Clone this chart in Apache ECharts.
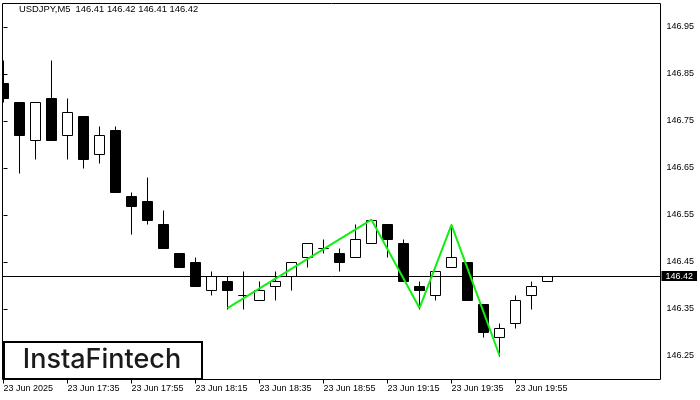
<!DOCTYPE html>
<html>
<head>
<meta charset="utf-8">
<script src="https://cdn.jsdelivr.net/npm/echarts@6/dist/echarts.min.js"></script>
<style>html,body{margin:0;padding:0;background:#fff;}#c{width:700px;height:400px;}</style>
</head>
<body>
<div id="c"></div>
<script>
// 5-minute bars, 23 Jun 2025, starting 17:15
const times = ['17:15','17:20','17:25','17:30','17:35','17:40','17:45','17:50','17:55','18:00',
  '18:05','18:10','18:15','18:20','18:25','18:30','18:35','18:40','18:45','18:50',
  '18:55','19:00','19:05','19:10','19:15','19:20','19:25','19:30','19:35','19:40',
  '19:45','19:50','19:55','20:00','20:05'];
const open  = [146.83,146.79,146.71,146.80,146.72,146.76,146.68,146.73,146.59,146.58,
  146.53,146.47,146.45,146.39,146.41,146.38,146.37,146.40,146.42,146.46,
  146.48,146.47,146.46,146.49,146.53,146.49,146.40,146.38,146.44,146.45,
  146.36,146.29,146.32,146.38,146.41];
const high  = [146.88,146.79,146.79,146.88,146.80,146.76,146.74,146.74,146.60,146.63,
  146.56,146.47,146.46,146.43,146.42,146.43,146.41,146.43,146.45,146.49,
  146.50,146.48,146.53,146.54,146.53,146.50,146.41,146.43,146.53,146.45,
  146.36,146.32,146.38,146.41,146.42];
const low   = [146.79,146.64,146.67,146.71,146.67,146.65,146.66,146.60,146.51,146.53,
  146.48,146.44,146.40,146.38,146.35,146.35,146.37,146.37,146.39,146.44,
  146.47,146.43,146.46,146.49,146.46,146.41,146.35,146.37,146.44,146.37,
  146.29,146.25,146.31,146.35,146.41];
const close = [146.80,146.72,146.79,146.71,146.77,146.67,146.72,146.60,146.57,146.54,
  146.48,146.44,146.40,146.42,146.39,146.38,146.39,146.41,146.45,146.49,
  146.48,146.45,146.50,146.54,146.50,146.41,146.39,146.43,146.46,146.37,
  146.30,146.31,146.37,146.40,146.42];

// pattern line (bar index, price)
const patternX = [14, 23, 26, 28, 31];
const patternY = [146.352, 146.540, 146.352, 146.529, 146.251];

const lastPrice = 146.42;
const headerText = 'USDJPY,M5  146.41 146.42 146.41 146.42';

const xTickIdx = [0, 4, 8, 12, 16, 20, 24, 28, 32];
const xTickLabels = ['23 Jun 2025','23 Jun 17:35','23 Jun 17:55','23 Jun 18:15','23 Jun 18:35',
  '23 Jun 18:55','23 Jun 19:15','23 Jun 19:35','23 Jun 19:55'];
const yTickLabels = ['146.25','146.35','146.45','146.55','146.65','146.75','146.85','146.95'];

const candleData = times.map((t, i) => [i, open[i], close[i], low[i], high[i]]);
const patternData = patternX.map((x, i) => [x, patternY[i]]);

const FONT = '"Liberation Sans", Arial, sans-serif';

function renderCandle(params, api) {
  const k = api.value(0), o = api.value(1), c = api.value(2), l = api.value(3), h = api.value(4);
  const pO = api.coord([k, o]), pC = api.coord([k, c]);
  const pL = api.coord([k, l]), pH = api.coord([k, h]);
  const cx = Math.floor(pO[0]) + 0.5;
  const bw = Math.round(api.size([1, 0])[0] * 0.625);
  const yTop = Math.round(Math.min(pO[1], pC[1])) + 0.5;
  const yBot = Math.round(Math.max(pO[1], pC[1])) + 0.5;
  const bull = c >= o;
  return {
    type: 'group',
    children: [
      { type: 'line', shape: { x1: cx, y1: Math.round(pH[1]) + 0.5, x2: cx, y2: Math.round(pL[1]) + 0.5 },
        style: { stroke: '#000', lineWidth: 1 } },
      { type: 'rect', shape: { x: cx - bw / 2, y: yTop, width: bw, height: yBot - yTop },
        style: { fill: bull ? '#fff' : '#000', stroke: '#000', lineWidth: 1 } }
    ]
  };
}

const chart = echarts.init(document.getElementById('c'), null, { renderer: 'canvas' });
chart.setOption({
  animation: false,
  backgroundColor: '#fff',
  grid: { left: 2.5, right: 39.5, top: 3.5, bottom: 20.5, show: true, borderColor: '#000', borderWidth: 1, backgroundColor: '#fff' },
  xAxis: {
    type: 'value', min: -0.0625, max: 41.0625,
    axisLine: { show: false },
    splitLine: { show: false },
    axisTick: { show: true, customValues: xTickIdx, length: 4, lineStyle: { color: '#000' } },
    axisLabel: {
      customValues: xTickIdx, align: 'left', margin: 5,
      color: '#000', fontFamily: FONT, fontSize: 9,
      formatter: v => xTickLabels[xTickIdx.indexOf(Math.round(v))] || ''
    }
  },
  yAxis: {
    type: 'value', position: 'right', min: 146.2, max: 147.0,
    axisLine: { show: false },
    splitLine: { show: false },
    axisTick: { show: true, customValues: yTickLabels.map(Number), length: 4, lineStyle: { color: '#000' } },
    axisLabel: {
      customValues: yTickLabels.map(Number), margin: 6,
      color: '#000', fontFamily: FONT, fontSize: 9,
      formatter: v => yTickLabels[yTickLabels.map(Number).findIndex(t => Math.abs(t - v) < 1e-6)] || ''
    }
  },
  series: [
    {
      type: 'custom', name: 'USDJPY', data: candleData, renderItem: renderCandle, clip: true,
      encode: { x: 0, y: [1, 2, 3, 4] }, silent: true, z: 3
    },
    {
      type: 'line', data: patternData, symbol: 'none', silent: true, z: 5,
      lineStyle: { color: '#11ee11', width: 2 },
      markLine: {
        silent: true, symbol: 'none', animation: false,
        lineStyle: { color: '#000', width: 1, type: 'solid' },
        data: [{ yAxis: lastPrice }],
        label: {
          show: true, position: 'end', distance: 1,
          formatter: lastPrice.toFixed(2),
          backgroundColor: '#000', color: '#fff',
          fontFamily: FONT, fontSize: 9, lineHeight: 10,
          padding: [0, 4, 0, 4]
        }
      }
    }
  ],
  graphic: [
    { type: 'text', left: 19, top: 5, z: 10,
      style: { text: headerText, fill: '#000', font: '9.4px ' + FONT } },
    { type: 'rect', left: 3, top: 341, z: 10,
      shape: { width: 198, height: 37 },
      style: { fill: '#fff', stroke: '#000', lineWidth: 2 } },
    { type: 'text', z: 11, x: 102, y: 360,
      style: { text: 'InstaFintech', fill: '#1a1a1a', font: '500 27px Inter, "Open Sans", sans-serif',
        align: 'center', verticalAlign: 'middle' } }
  ]
});
</script>
</body>
</html>
